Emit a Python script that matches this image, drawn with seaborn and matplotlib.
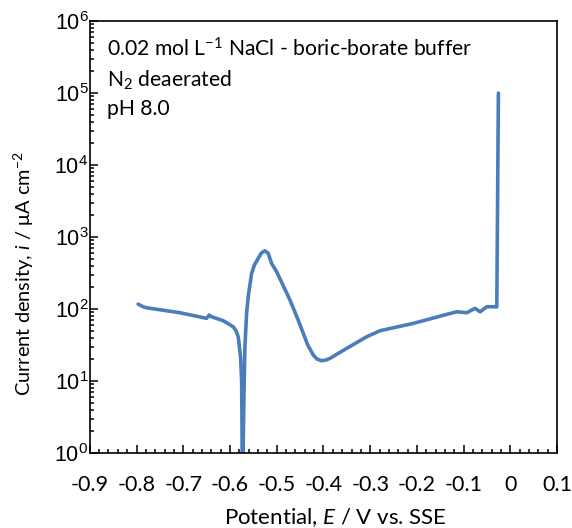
import numpy as np
import pandas as pd
import seaborn as sns
import matplotlib.pyplot as plt
from matplotlib.ticker import FixedLocator, LogLocator, NullFormatter

# polarization curve (potential in V vs SSE, current density in uA cm-2)
potential = [-0.7966, -0.7859, -0.7786, -0.7073, -0.6500, -0.6445, -0.6394, -0.6145,
             -0.5931, -0.5874, -0.5824, -0.5774, -0.5752, -0.5745, -0.5740, -0.5735,
             -0.5725, -0.5717, -0.5702, -0.5681, -0.5645, -0.5610, -0.5538, -0.5478,
             -0.5396, -0.5328, -0.5253, -0.5182, -0.5111, -0.5002, -0.4867, -0.4717,
             -0.4567, -0.4432, -0.4336, -0.4218, -0.4139, -0.4039, -0.3946,
             -0.3861, -0.3503, -0.3075, -0.2790, -0.2077, -0.1362, -0.1148, -0.0934,
             -0.0756, -0.0649, -0.0505, -0.0328, -0.0291, -0.0257]
log_current = [2.069, 2.032, 2.018, 1.949, 1.871, 1.917, 1.893, 1.838,
               1.754, 1.701, 1.615, 1.338, 1.014, 0.55, 0.0, -1.0,
               -1.0, 0.13, 0.782, 1.477, 1.94, 2.171, 2.495, 2.611,
               2.704, 2.778, 2.81, 2.774, 2.635, 2.518, 2.333, 2.125,
               1.889, 1.663, 1.5, 1.361, 1.306, 1.282, 1.292,
               1.315, 1.454, 1.615, 1.699, 1.801, 1.926, 1.962, 1.949,
               2.01, 1.962, 2.032, 2.032, 2.03, 5.0]

x_ticks = [-0.9, -0.8, -0.7, -0.6, -0.5, -0.4, -0.3, -0.2, -0.1, 0, 0.1]
x_ticklabels = ["-0.9", "-0.8", "-0.7", "-0.6", "-0.5", "-0.4", "-0.3", "-0.2", "-0.1", "0", "0.1"]
y_exponents = [0, 1, 2, 3, 4, 5, 6]

df = pd.DataFrame({"E": potential, "i": 10 ** np.array(log_current)})

sns.set_style("ticks")
plt.rcParams["font.family"] = ["Lato", "DejaVu Sans"]
plt.rcParams["mathtext.fontset"] = "custom"
plt.rcParams["mathtext.it"] = "Lato:italic"
plt.rcParams["mathtext.rm"] = "Lato"
plt.rcParams["axes.unicode_minus"] = False
plt.rcParams["text.color"] = "black"
plt.rcParams["axes.labelcolor"] = "black"
plt.rcParams["xtick.color"] = "black"
plt.rcParams["ytick.color"] = "black"

fig = plt.figure(figsize=(5.72, 5.28), dpi=100)
ax = fig.add_axes([0.157, 0.142, 0.817, 0.818])

sns.lineplot(data=df, x="E", y="i", sort=False, estimator=None,
             color="#4a7ebb", linewidth=2.6, ax=ax)

ax.set_yscale("log")
ax.set_xlim(-0.9, 0.1)
ax.set_ylim(1, 1e6)

ax.xaxis.set_major_locator(FixedLocator(x_ticks))
ax.set_xticklabels(x_ticklabels, fontsize=15.5)
ax.xaxis.set_minor_locator(FixedLocator(np.arange(-0.9, 0.1001, 0.02)))

ax.yaxis.set_major_locator(FixedLocator([10.0 ** e for e in y_exponents]))
ax.set_yticklabels([r"$\mathregular{10^{%d}}$" % e for e in y_exponents],
                   fontsize=15.5, family="Liberation Sans")
ax.yaxis.set_minor_locator(LogLocator(base=10, subs=np.arange(2, 10), numticks=20))
ax.yaxis.set_minor_formatter(NullFormatter())

ax.tick_params(which="both", direction="in", top=False, right=False, width=1.1)
ax.tick_params(which="major", length=5.5)
ax.tick_params(axis="x", which="major", pad=16)
ax.tick_params(axis="y", which="major", pad=1)
ax.tick_params(which="minor", length=3)
for s in ax.spines.values():
    s.set_linewidth(1.2)
    s.set_color("black")

ax.set_xlabel(r"Potential, $\it{E}$ / V vs. SSE", fontsize=16)
ax.xaxis.set_label_coords(0.525, -0.124)
ax.set_ylabel(r"Current density, $\it{i}$ / μA cm$\mathregular{^{-2}}$", fontsize=14.4)
ax.yaxis.set_label_coords(-0.116, 0.415)

ax.text(0.036, 0.935, r"0.02 mol L$\mathregular{^{-1}}$ NaCl - boric-borate buffer",
        transform=ax.transAxes, fontsize=15.2, va="center")
ax.text(0.036, 0.862, r"N$\mathregular{_{2}}$ deaerated",
        transform=ax.transAxes, fontsize=15.2, va="center")
ax.text(0.036, 0.797, "pH 8.0", transform=ax.transAxes, fontsize=15.2, va="center")

plt.savefig("out.png", dpi=100)
